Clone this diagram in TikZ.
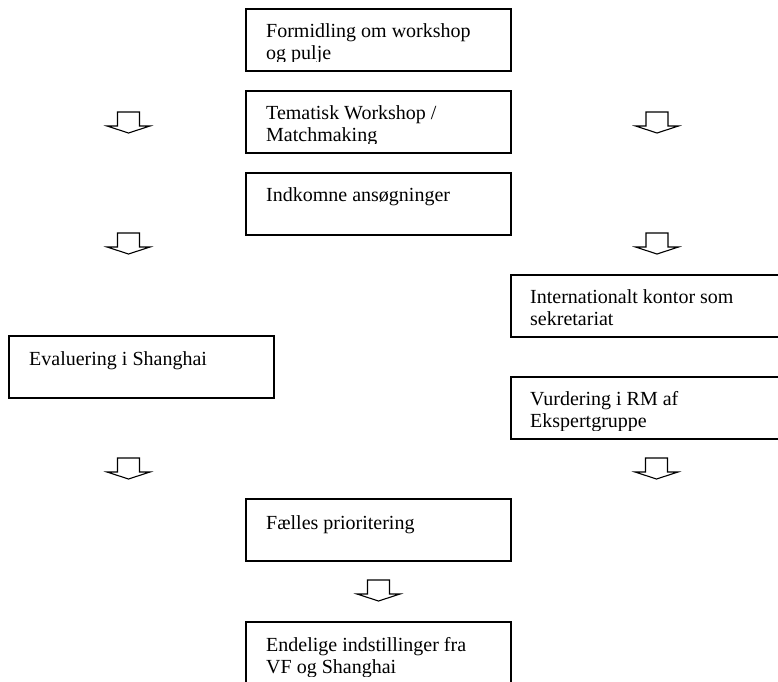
\documentclass[tikz,border=0pt]{standalone}
\usepackage{fontspec}
\setmainfont{Liberation Serif}
\newcommand\blkarrow[2]{%
  \draw[blockarrow] ({#1-11},#2) -- ({#1+11},#2) -- ({#1+11},{#2+14}) -- ({#1+21.5},{#2+14})
    -- (#1,{#2+21}) -- ({#1-21.5},{#2+14}) -- ({#1-11},{#2+14}) -- cycle;}
\begin{document}
\begin{tikzpicture}[x=1pt,y=-1pt,
  box/.style={draw, line width=1.4pt, rectangle, inner sep=0pt, outer sep=0pt, anchor=north west},
  txt/.style={anchor=base west, inner sep=0pt, font=\fontsize{20}{22}\selectfont},
  blockarrow/.style={draw, line width=1.1pt, line join=miter}]
\clip (0,0) rectangle (778,681);
\fill[white] (0,0) rectangle (778,681);

% centre column
\node[box, minimum width=265pt, minimum height=62pt] (formidling) at (246,9) {};
\begin{scope}
  \clip (246,12) rectangle (511,61.5);
  \node[txt] (formidling1) at (266,37.5) {Formidling om workshop};
  \node[txt] (formidling2) at (266,59.5) {og pulje};
\end{scope}

\node[box, minimum width=265pt, minimum height=62pt] (tematisk) at (246,91) {};
\begin{scope}
  \clip (246,94) rectangle (511,143);
  \node[txt] (tematisk1) at (266,119) {Tematisk Workshop /};
  \node[txt] (tematisk2) at (266,141) {Matchmaking};
\end{scope}

\node[box, minimum width=265pt, minimum height=62pt] (indkomne) at (246,173) {};
\node[txt] (indkomne1) at (266,201) {Indkomne ansøgninger};

% left column
\node[box, minimum width=265pt, minimum height=62pt] (evaluering) at (9,336) {};
\node[txt] (evaluering1) at (29,365) {Evaluering i Shanghai};

% right column
\node[box, minimum width=300pt, minimum height=62pt] (internationalt) at (511,275) {};
\node[txt] (internationalt1) at (530,303) {Internationalt kontor som};
\node[txt] (internationalt2) at (530,325) {sekretariat};

\node[box, minimum width=300pt, minimum height=62pt] (vurdering) at (511,377) {};
\begin{scope}
  \clip (511,380) rectangle (800,430.5);
  \node[txt] (vurdering1) at (530,405) {Vurdering i RM af};
  \node[txt] (vurdering2) at (530,427) {Ekspertgruppe};
\end{scope}

% bottom
\node[box, minimum width=265pt, minimum height=62pt] (faelles) at (246,499) {};
\node[txt] (faelles1) at (266,529.5) {Fælles prioritering};

\node[box, minimum width=265pt, minimum height=90pt] (endelige) at (246,622) {};
\begin{scope}
  \clip (246,625) rectangle (511,676.5);
  \node[txt] (endelige1) at (266,651.5) {Endelige indstillinger fra};
  \node[txt] (endelige2) at (266,673.5) {VF og Shanghai};
\end{scope}

% block arrows
\blkarrow{128.5}{112}
\blkarrow{657}{112}
\blkarrow{128.5}{233}
\blkarrow{657}{233}
\blkarrow{128.5}{458}
\blkarrow{656.5}{458}
\blkarrow{378.5}{580}
\end{tikzpicture}
\end{document}
